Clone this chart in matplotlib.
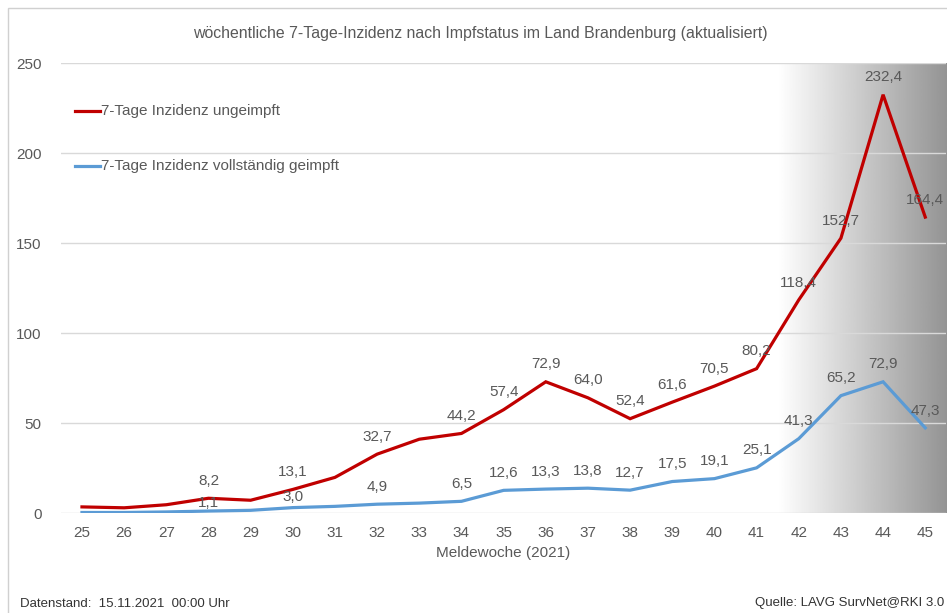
import numpy as np
import matplotlib.pyplot as plt
from matplotlib.patches import Rectangle

# Meldewochen 2021
weeks = list(range(25, 46))

# 7-Tage-Inzidenz ungeimpft
unvacc = [3.4, 2.9, 4.6, 8.2, 7.1, 13.1, 19.8, 32.7, 41.0, 44.2, 57.4,
          72.9, 64.0, 52.4, 61.6, 70.5, 80.2, 118.4, 152.7, 232.4, 164.4]

# 7-Tage-Inzidenz vollstaendig geimpft
vacc = [0.3, 0.3, 0.6, 1.1, 1.5, 3.0, 3.7, 4.9, 5.5, 6.5, 12.6,
        13.3, 13.8, 12.7, 17.5, 19.1, 25.1, 41.3, 65.2, 72.9, 47.3]

# weeks that carry a value label
labelled = [28, 30, 32] + list(range(34, 46))

title = "wöchentliche 7-Tage-Inzidenz nach Impfstatus im Land Brandenburg (aktualisiert)"
label_unvacc = "7-Tage Inzidenz ungeimpft"
label_vacc = "7-Tage Inzidenz vollständig geimpft"

plt.rcParams['font.family'] = ['Liberation Sans Narrow', 'Liberation Sans', 'DejaVu Sans']
grey = '#595959'
red = '#C00000'
blue = '#5B9BD5'

fig = plt.figure(figsize=(9.47, 6.13), dpi=100)
ax = fig.add_axes([0.0643, 0.1631, 0.935, 0.7341])

# outer chart border
fig.patches.append(Rectangle((0.008, -0.1), 1.1, 1.087, transform=fig.transFigure,
                             fill=False, edgecolor='#d0d0d0', linewidth=1.0))

ax.set_xlim(24.5, 45.5)
ax.set_ylim(0, 250)

# grey gradient on the right
grad = np.linspace(1.0, 0.58, 256).reshape(1, -1)
ax.imshow(grad, cmap='gray', vmin=0, vmax=1, aspect='auto',
          extent=(41.5, 45.5, 0, 250), zorder=0, interpolation='bilinear')

for y in range(0, 251, 50):
    ax.axhline(y, color='#d9d9d9', linewidth=1.0, zorder=1)

ax.plot(weeks, unvacc, color=red, linewidth=2.3, zorder=3, solid_joinstyle='miter')
ax.plot(weeks, vacc, color=blue, linewidth=2.3, zorder=3, solid_joinstyle='miter')

fmt = lambda v: f"{v:.1f}".replace('.', ',')
# a few labels sit closer to the line in the original
offsets_vacc = {28: 6, 30: 7.5}
for w, u, v in zip(weeks, unvacc, vacc):
    if w not in labelled:
        continue
    ax.annotate(fmt(u), (w, u), xytext=(0, 12.5), textcoords='offset points',
                ha='center', va='center', fontsize=11, color=grey, zorder=4)
    ax.annotate(fmt(v), (w, v), xytext=(0, offsets_vacc.get(w, 12.5)),
                textcoords='offset points', ha='center', va='center',
                fontsize=11, color=grey, zorder=4)

ax.set_xticks(weeks)
ax.set_xticklabels([str(w) for w in weeks])
ax.set_yticks(range(0, 251, 50))
ax.tick_params(axis='both', length=0, labelsize=11, colors=grey)
ax.tick_params(axis='y', pad=14)
ax.tick_params(axis='x', pad=9)
for s in ax.spines.values():
    s.set_visible(False)
ax.set_xlabel("Meldewoche (2021)", fontsize=11, color=grey, labelpad=5)

# legend drawn by hand: short line touching the text
ax.plot([0.016, 0.044], [0.893, 0.893], transform=ax.transAxes, color=red,
        linewidth=2.3, clip_on=False)
ax.text(0.045, 0.893, label_unvacc, transform=ax.transAxes, va='center',
        fontsize=11, color=grey)
ax.plot([0.016, 0.044], [0.771, 0.771], transform=ax.transAxes, color=blue,
        linewidth=2.3, clip_on=False)
ax.text(0.045, 0.771, label_vacc, transform=ax.transAxes, va='center',
        fontsize=11, color=grey)

fig.text(0.507, 0.946, title, ha='center', va='center', fontsize=11.4, color=grey)
fig.text(0.021, 0.014, "Datenstand:  15.11.2021  00:00 Uhr", ha='left', va='center',
         fontsize=9.5, color='#333333')
fig.text(0.997, 0.016, "Quelle: LAVG SurvNet@RKI 3.0", ha='right', va='center',
         fontsize=9.5, color='#333333')

fig.savefig('out.png', dpi=100)
